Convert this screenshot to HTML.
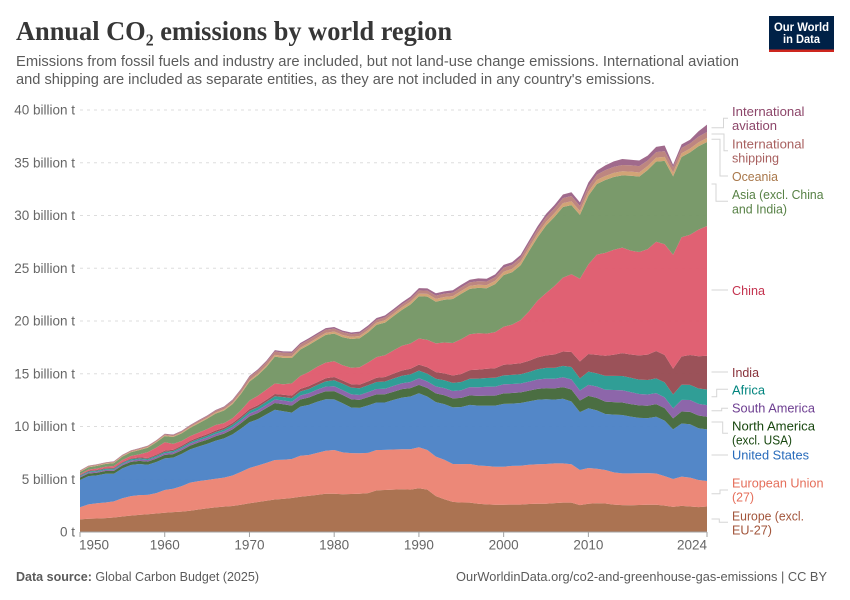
<!DOCTYPE html>
<html lang="en">
<head>
<meta charset="utf-8">
<title>Annual CO₂ emissions by world region</title>
<style>
html,body{margin:0;padding:0;background:#fff;}
svg{display:block;font-family:"Liberation Sans",Arial,sans-serif;}
.lab{font-size:13px;}
.conn{fill:none;stroke:#d6d6d6;stroke-width:1;}
</style>
</head>
<body>
<svg id="chart" xmlns="http://www.w3.org/2000/svg" width="850" height="600" viewBox="0 0 850 600">
<rect x="0" y="0" width="850" height="600" fill="#fff"/>
<text x="16" y="40" font-family="'Liberation Serif',serif" font-weight="700" font-size="27" fill="#363636" textLength="436" lengthAdjust="spacingAndGlyphs">Annual CO₂ emissions by world region</text>
<text x="16" y="66" font-size="15" fill="#5b5b5b" textLength="723" lengthAdjust="spacingAndGlyphs">Emissions from fossil fuels and industry are included, but not land-use change emissions. International aviation</text>
<text x="16" y="84" font-size="15" fill="#5b5b5b" textLength="639" lengthAdjust="spacingAndGlyphs">and shipping are included as separate entities, as they are not included in any country's emissions.</text>

<g>
<rect x="769" y="16" width="65" height="36" fill="#002147"/>
<rect x="769" y="49.5" width="65" height="2.5" fill="#ce261e"/>
<text x="801.5" y="31" text-anchor="middle" font-size="12" font-weight="700" fill="#fff" textLength="55" lengthAdjust="spacingAndGlyphs">Our World</text>
<text x="801.5" y="43" text-anchor="middle" font-size="12" font-weight="700" fill="#fff" textLength="37" lengthAdjust="spacingAndGlyphs">in Data</text>
</g>

<g id="grid"></g>
<g id="areas"></g>
<g id="axes"></g>

<g>
<path class="conn" d="M711.5 127.7H723.5V118.3H728"/>
<path class="conn" d="M711.5 134H724V150.7H728"/>
<path class="conn" d="M711.5 139.3H720V176H728"/>
<path class="conn" d="M711.5 184H716V201.3H728"/>
<path class="conn" d="M711.5 290H728"/>
<path class="conn" d="M711.5 372H728"/>
<path class="conn" d="M711.5 396.7H716.7V389.3H728"/>
<path class="conn" d="M711.5 410.7H721.7V408.3H728"/>
<path class="conn" d="M711.5 422H722.7V433.3H728"/>
<path class="conn" d="M711.5 455H728"/>
<path class="conn" d="M711.5 493.7H720V490H728"/>
<path class="conn" d="M711.5 519H719.3V522.3H728"/>
</g>

<g>
<text class="lab" fill="#8c4569" x="732" y="116" textLength="72.5" lengthAdjust="spacingAndGlyphs">International</text>
<text class="lab" fill="#8c4569" x="732" y="130" textLength="45" lengthAdjust="spacingAndGlyphs">aviation</text>
<text class="lab" fill="#a8605f" x="732" y="148.3" textLength="72.5" lengthAdjust="spacingAndGlyphs">International</text>
<text class="lab" fill="#a8605f" x="732" y="162.7" textLength="47" lengthAdjust="spacingAndGlyphs">shipping</text>
<text class="lab" fill="#a8774a" x="732" y="181" textLength="46" lengthAdjust="spacingAndGlyphs">Oceania</text>
<text class="lab" fill="#578145" x="732" y="199" textLength="91.5" lengthAdjust="spacingAndGlyphs">Asia (excl. China</text>
<text class="lab" fill="#578145" x="732" y="213.5" textLength="55" lengthAdjust="spacingAndGlyphs">and India)</text>
<text class="lab" fill="#c4334f" x="732" y="295" textLength="33" lengthAdjust="spacingAndGlyphs">China</text>
<text class="lab" fill="#883039" x="732" y="377" textLength="27" lengthAdjust="spacingAndGlyphs">India</text>
<text class="lab" fill="#00847e" x="732" y="394.3" textLength="33" lengthAdjust="spacingAndGlyphs">Africa</text>
<text class="lab" fill="#6d3e91" x="732" y="412.3" textLength="83" lengthAdjust="spacingAndGlyphs">South America</text>
<text class="lab" fill="#18470f" x="732" y="430.7" textLength="83" lengthAdjust="spacingAndGlyphs">North America</text>
<text class="lab" fill="#18470f" x="732" y="444.5" textLength="60" lengthAdjust="spacingAndGlyphs">(excl. USA)</text>
<text class="lab" fill="#286bbb" x="732" y="459.5" textLength="77" lengthAdjust="spacingAndGlyphs">United States</text>
<text class="lab" fill="#e56e5a" x="732" y="487.7" textLength="91.5" lengthAdjust="spacingAndGlyphs">European Union</text>
<text class="lab" fill="#e56e5a" x="732" y="501.7" textLength="22" lengthAdjust="spacingAndGlyphs">(27)</text>
<text class="lab" fill="#a2553b" x="732" y="520.3" textLength="72" lengthAdjust="spacingAndGlyphs">Europe (excl.</text>
<text class="lab" fill="#a2553b" x="732" y="534.3" textLength="40" lengthAdjust="spacingAndGlyphs">EU-27)</text>
</g>

<text x="16" y="581" font-size="13" fill="#5b5b5b" textLength="243" lengthAdjust="spacingAndGlyphs"><tspan font-weight="700">Data source:</tspan> Global Carbon Budget (2025)</text>
<text x="827" y="581" text-anchor="end" font-size="13" fill="#5b5b5b" textLength="371" lengthAdjust="spacingAndGlyphs">OurWorldinData.org/co2-and-greenhouse-gas-emissions | CC BY</text>
</svg>

<script>
const years = [
  1950,1951,1952,1953,1954,1955,1956,1957,1958,1959,
  1960,1961,1962,1963,1964,1965,1966,1967,1968,1969,
  1970,1971,1972,1973,1974,1975,1976,1977,1978,1979,
  1980,1981,1982,1983,1984,1985,1986,1987,1988,1989,
  1990,1991,1992,1993,1994,1995,1996,1997,1998,1999,
  2000,2001,2002,2003,2004,2005,2006,2007,2008,2009,
  2010,2011,2012,2013,2014,2015,2016,2017,2018,2019,
  2020,2021,2022,2023,2024];

const europeExclEU = [
  1.20,1.26,1.28,1.32,1.38,1.47,1.55,1.62,1.68,1.75,
  1.83,1.88,1.93,2.02,2.13,2.24,2.33,2.40,2.47,2.58,
  2.72,2.84,2.96,3.08,3.14,3.22,3.34,3.42,3.52,3.62,
  3.62,3.58,3.60,3.63,3.68,3.95,3.98,4.02,4.05,4.02,
  4.15,4.02,3.40,3.10,2.85,2.80,2.78,2.68,2.62,2.58,
  2.58,2.60,2.60,2.66,2.68,2.68,2.74,2.78,2.78,2.55,
  2.68,2.72,2.70,2.60,2.55,2.54,2.56,2.58,2.58,2.50,
  2.38,2.48,2.42,2.36,2.42];
const europeanUnion = [
  1.14,1.36,1.44,1.48,1.52,1.73,1.85,1.88,1.84,1.93,
  2.15,2.22,2.42,2.66,2.69,2.69,2.72,2.75,2.88,3.12,
  3.35,3.46,3.59,3.74,3.71,3.70,3.89,3.88,3.98,4.08,
  4.15,3.97,3.88,3.83,3.82,3.82,3.80,3.80,3.79,3.82,
  3.88,3.75,3.74,3.75,3.60,3.63,3.67,3.62,3.63,3.60,
  3.61,3.67,3.68,3.72,3.74,3.77,3.76,3.72,3.64,3.33,
  3.39,3.28,3.18,3.05,3.01,3.02,3.01,3.00,2.96,2.80,
  2.64,2.77,2.73,2.57,2.41];
const unitedStates = [
  2.59,2.68,2.65,2.72,2.62,2.83,2.95,2.94,2.85,2.95,
  3.00,2.95,3.05,3.15,3.29,3.42,3.60,3.72,3.90,4.10,
  4.33,4.40,4.60,4.77,4.60,4.40,4.65,4.75,4.85,4.88,
  4.80,4.65,4.32,4.30,4.50,4.50,4.50,4.70,4.90,5.00,
  5.12,5.06,5.17,5.27,5.36,5.42,5.60,5.68,5.73,5.80,
  5.95,5.90,5.95,6.00,6.11,6.13,6.05,6.13,5.95,5.48,
  5.66,5.53,5.30,5.48,5.53,5.38,5.25,5.21,5.38,5.26,
  4.71,5.03,5.06,4.91,4.90];
const northAmericaExclUSA = [
  .24,.25,.25,.26,.27,.28,.30,.30,.30,.32,
  .33,.33,.35,.36,.38,.40,.43,.45,.48,.52,
  .56,.58,.60,.64,.66,.66,.68,.70,.72,.76,
  .78,.78,.78,.76,.78,.78,.78,.78,.80,.80,
  .80,.82,.83,.84,.86,.86,.90,.92,.95,.95,
  1.00,1.00,1.00,1.02,1.04,1.06,1.06,1.10,1.14,1.10,
  1.17,1.18,1.18,1.18,1.18,1.18,1.18,1.18,1.20,1.18,
  1.04,1.14,1.18,1.20,1.20];
const southAmerica = [
  .10,.10,.11,.11,.12,.13,.13,.14,.15,.15,
  .17,.17,.18,.19,.20,.21,.22,.23,.24,.25,
  .27,.28,.30,.33,.35,.36,.38,.40,.42,.44,
  .47,.47,.48,.47,.48,.50,.52,.55,.56,.58,
  .62,.62,.65,.68,.70,.73,.78,.82,.84,.85,
  .86,.86,.84,.85,.88,.90,.92,.94,.96,.95,
  1.04,1.08,1.12,1.15,1.16,1.14,1.08,1.06,1.04,1.02,
  .96,1.10,1.12,1.10,1.10];
const africa = [
  .08,.09,.09,.09,.10,.10,.11,.11,.11,.12,
  .12,.13,.13,.14,.15,.16,.17,.18,.19,.21,
  .24,.27,.29,.31,.33,.35,.38,.41,.44,.50,
  .57,.60,.62,.63,.65,.67,.68,.70,.71,.72,
  .73,.73,.73,.74,.76,.78,.80,.82,.83,.84,
  .85,.86,.88,.92,.98,1.02,1.03,1.08,1.17,1.15,
  1.26,1.24,1.32,1.34,1.36,1.36,1.36,1.38,1.40,1.42,
  1.30,1.44,1.44,1.46,1.48];
const india = [
  .06,.07,.07,.07,.07,.08,.08,.09,.09,.10,
  .11,.12,.13,.13,.14,.15,.15,.16,.17,.18,
  .18,.19,.20,.21,.22,.24,.25,.27,.27,.29,
  .30,.31,.33,.35,.37,.40,.43,.46,.50,.53,
  .56,.61,.63,.66,.71,.76,.81,.85,.87,.90,
  1.00,1.02,1.04,1.06,1.12,1.18,1.26,1.36,1.42,1.60,
  1.67,1.76,1.90,2.00,2.17,2.20,2.30,2.40,2.60,2.60,
  2.45,2.68,2.83,3.06,3.19];
const china = [
  .08,.10,.13,.14,.18,.20,.23,.28,.55,.68,
  .80,.55,.44,.44,.44,.48,.52,.43,.45,.58,
  .80,.90,.95,.99,1.00,1.16,1.22,1.34,1.46,1.49,
  1.49,1.45,1.56,1.65,1.79,1.96,2.06,2.20,2.35,2.40,
  2.48,2.60,2.73,2.92,3.08,3.30,3.40,3.45,3.33,3.43,
  3.60,3.75,4.09,4.70,5.38,5.90,6.50,7.00,7.37,7.85,
  8.50,9.50,9.76,9.95,9.99,9.85,9.80,10.00,10.35,10.50,
  10.80,11.30,11.40,12.00,12.30];
const asiaExclChinaIndia = [
  .20,.23,.25,.26,.27,.32,.36,.40,.42,.50,
  .58,.66,.72,.78,.88,.98,1.08,1.20,1.34,1.55,
  1.80,1.95,2.15,2.55,2.50,2.40,2.50,2.55,2.55,2.62,
  2.62,2.65,2.72,2.75,2.85,3.05,3.10,3.25,3.40,3.70,
  4.00,4.10,3.95,4.05,4.17,4.30,4.30,4.30,4.30,4.55,
  4.90,4.96,5.20,5.70,6.00,6.40,6.55,6.70,6.55,6.05,
  6.50,6.70,6.90,6.90,6.85,7.10,7.15,7.50,7.60,7.90,
  7.43,7.60,7.80,7.90,7.97];
const oceania = [
  .05,.05,.05,.05,.06,.06,.06,.07,.07,.07,
  .08,.08,.08,.09,.10,.10,.11,.11,.12,.13,
  .14,.14,.15,.17,.17,.18,.18,.19,.19,.20,
  .20,.21,.21,.21,.22,.22,.23,.23,.24,.25,
  .26,.26,.27,.27,.27,.28,.29,.30,.30,.31,
  .32,.32,.33,.33,.34,.35,.35,.36,.37,.37,
  .38,.38,.39,.39,.39,.39,.39,.38,.38,.38,
  .36,.36,.36,.37,.38];
const internationalShipping = [
  .08,.08,.08,.08,.08,.09,.09,.09,.10,.10,
  .10,.11,.12,.13,.14,.15,.17,.19,.22,.26,
  .30,.31,.32,.32,.31,.30,.30,.31,.30,.29,
  .28,.27,.26,.25,.26,.26,.27,.27,.28,.29,
  .30,.31,.31,.31,.32,.33,.33,.34,.35,.35,
  .38,.38,.39,.40,.42,.44,.46,.48,.50,.47,
  .50,.50,.55,.57,.60,.60,.60,.52,.52,.54,
  .50,.50,.50,.55,.57];
const internationalAviation = [
  .02,.02,.02,.02,.03,.03,.03,.03,.03,.03,
  .04,.04,.05,.05,.06,.06,.07,.08,.09,.09,
  .10,.11,.12,.13,.13,.14,.14,.15,.15,.15,
  .15,.15,.15,.16,.17,.17,.18,.18,.19,.20,
  .22,.21,.22,.22,.23,.24,.25,.26,.26,.26,
  .27,.26,.26,.27,.29,.31,.32,.34,.35,.34,
  .38,.38,.45,.52,.56,.53,.53,.46,.49,.53,
  .24,.34,.34,.50,.69];

const yTickValues = [0,5,10,15,20,25,30,35,40];
const yTickLabels = ["0 t","5 billion t","10 billion t","15 billion t","20 billion t","25 billion t","30 billion t","35 billion t","40 billion t"];
const xTickYears = [1950,1960,1970,1980,1990,2000,2010,2024];

const stackOrder = [
  {slug:"europe-excl-eu27", values:europeExclEU, color:"#a76c49"},
  {slug:"european-union", values:europeanUnion, color:"#eb8271"},
  {slug:"united-states", values:unitedStates, color:"#4a81c5"},
  {slug:"north-america", values:northAmericaExclUSA, color:"#416638"},
  {slug:"south-america", values:southAmerica, color:"#875ea5"},
  {slug:"africa", values:africa, color:"#259990"},
  {slug:"india", values:india, color:"#964950"},
  {slug:"china", values:china, color:"#de586b"},
  {slug:"asia-excl-china-india", values:asiaExclChinaIndia, color:"#739563"},
  {slug:"oceania", values:oceania, color:"#d09f6f"},
  {slug:"international-shipping", values:internationalShipping, color:"#b97f79"},
  {slug:"international-aviation", values:internationalAviation, color:"#9b6286"}
];

const plotLeft = 80, plotRight = 707, plotBottom = 532, plotTop = 110;
const xDomain = [1950, 2024], yDomain = [0, 40];
function xScale(v){ return plotLeft + (v - xDomain[0]) / (xDomain[1] - xDomain[0]) * (plotRight - plotLeft); }
function yScale(v){ return plotBottom - (v - yDomain[0]) / (yDomain[1] - yDomain[0]) * (plotBottom - plotTop); }

const NS = "http://www.w3.org/2000/svg";
const gridGroup = document.getElementById("grid");
const areaGroup = document.getElementById("areas");
const axisGroup = document.getElementById("axes");

yTickValues.forEach(function(v, i){
  if (v !== 0) {
    const line = document.createElementNS(NS, "line");
    
    
    line.setAttribute("x1", plotLeft);
    line.setAttribute("x2", plotRight);
    line.setAttribute("y1", yScale(v));
    line.setAttribute("y2", yScale(v));
    line.setAttribute("stroke", "#dddddd");
    line.setAttribute("stroke-dasharray", "3,4");
    gridGroup.appendChild(line);
  }
  const label = document.createElementNS(NS, "text");
  
  
  label.setAttribute("x", 75);
  label.setAttribute("y", yScale(v) + 4.5);
  label.setAttribute("text-anchor", "end");
  label.setAttribute("font-size", "13.5");
  label.setAttribute("fill", "#666666");
  label.textContent = yTickLabels[i];
  axisGroup.appendChild(label);
});

const cumulative = years.map(function(){ return 0; });
stackOrder.forEach(function(series){
  const lower = cumulative.slice();
  years.forEach(function(_, i){ cumulative[i] += series.values[i]; });
  let d = "";
  years.forEach(function(y, i){
    d += (i === 0 ? "M" : "L") + xScale(y).toFixed(2) + " " + yScale(cumulative[i]).toFixed(2);
  });
  for (let i = years.length - 1; i >= 0; i--) {
    d += "L" + xScale(years[i]).toFixed(2) + " " + yScale(lower[i]).toFixed(2);
  }
  d += "Z";
  const area = document.createElementNS(NS, "path");
  
  
  area.setAttribute("d", d);
  area.setAttribute("fill", series.color);
  area.setAttribute("fill-opacity", "0.95");
  areaGroup.appendChild(area);
});

const axisLine = document.createElementNS(NS, "line");


axisLine.setAttribute("x1", plotLeft);
axisLine.setAttribute("x2", plotRight);
axisLine.setAttribute("y1", plotBottom);
axisLine.setAttribute("y2", plotBottom);
axisLine.setAttribute("stroke", "#a1a1a1");
axisGroup.appendChild(axisLine);

xTickYears.forEach(function(y, i){
  const tick = document.createElementNS(NS, "line");
  
  
  tick.setAttribute("x1", xScale(y));
  tick.setAttribute("x2", xScale(y));
  tick.setAttribute("y1", plotBottom);
  tick.setAttribute("y2", plotBottom + 5);
  tick.setAttribute("stroke", "#a1a1a1");
  axisGroup.appendChild(tick);
  const label = document.createElementNS(NS, "text");
  
  
  const first = i === 0, last = i === xTickYears.length - 1;
  label.setAttribute("x", first ? xScale(y) - 1 : xScale(y));
  label.setAttribute("y", 549.5);
  label.setAttribute("text-anchor", first ? "start" : (last ? "end" : "middle"));
  label.setAttribute("font-size", "13.5");
  label.setAttribute("fill", "#666666");
  label.textContent = String(y);
  axisGroup.appendChild(label);
});
</script>
</body>
</html>
